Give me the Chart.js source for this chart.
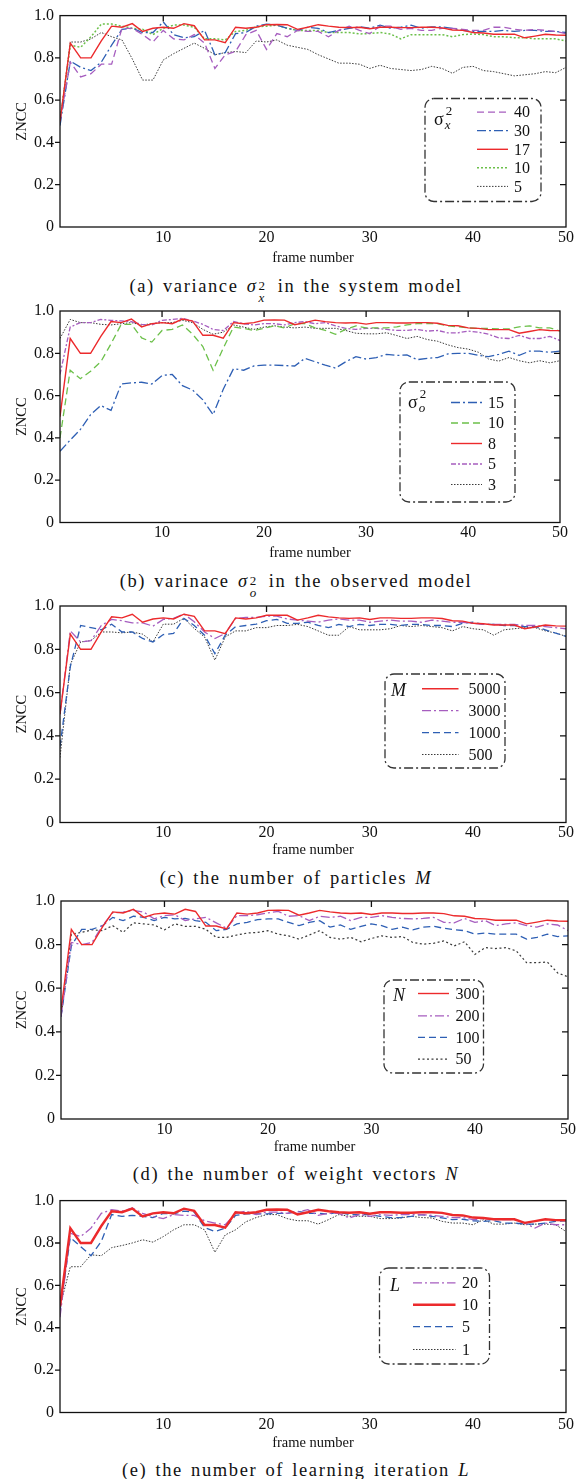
<!DOCTYPE html>
<html>
<head>
<meta charset="utf-8">
<script src="https://cdn.jsdelivr.net/npm/chart.js@4.4.0/dist/chart.umd.min.js"></script>
<style>
  body { margin: 0; background: #fff; width: 586px; height: 1479px; position: relative; overflow: hidden; }
  canvas { position: absolute; left: 0; }
  .cap { position: absolute; left: 0; width: 592px; text-align: center; font-family: 'Liberation Serif', serif;
         font-size: 18.5px; letter-spacing: 1.6px; word-spacing: 2px; color: #111; line-height: 20px; white-space: nowrap; }
  .ss { display: inline-block; position: relative; width: 12px; height: 0; }
  .ss .up { position: absolute; left: 1px; top: -16px; font-size: 13px; font-style: normal; }
  .ss .dn { position: absolute; left: 1px; top: -4px; font-size: 13px; font-style: italic; }
</style>
</head>
<body>
<div class="cap" style="top:276px">(a) variance <i>σ</i><span class="ss"><span class="up">2</span><span class="dn">x</span></span> in the system model</div>
<div class="cap" style="top:571px">(b) varinace <i>σ</i><span class="ss"><span class="up">2</span><span class="dn">o</span></span> in the observed model</div>
<div class="cap" style="top:868px">(c) the number of particles <i>M</i></div>
<div class="cap" style="top:1164px">(d) the number of weight vectors <i>N</i></div>
<div class="cap" style="top:1460px">(e) the number of learning iteration <i>L</i></div>
<script>
const frames = [0,1,2,3,4,5,6,7,8,9,10,11,12,13,14,15,16,17,18,19,20,21,22,23,24,25,26,27,28,29,
  30,31,32,33,34,35,36,37,38,39,40,41,42,43,44,45,46,47,48,49];
const xTickValues = [10, 20, 30, 40, 49];
const xTickLabels = ["10", "20", "30", "40", "50"];
const yTickValues = [0, 0.2, 0.4, 0.6, 0.8, 1.0];
const yTickLabels = ["0", "0.2", "0.4", "0.6", "0.8", "1.0"];

// red run, same in every panel (sigma_x^2=17, sigma_o^2=8, M=5000, N=300, L=10)
const baseline = [0.50,0.87,0.80,0.80,0.88,0.95,0.945,0.962,0.925,0.94,0.945,0.94,0.962,0.952,0.885,0.885,0.872,0.945,0.94,0.945,
  0.957,0.958,0.957,0.935,0.945,0.957,0.95,0.945,0.943,0.945,0.938,0.945,0.945,0.943,0.943,0.945,0.945,0.942,0.932,0.93,
  0.92,0.918,0.912,0.912,0.912,0.895,0.903,0.912,0.908,0.907];

// (a) system model variance
const sysVar40 = [0.50,0.78,0.71,0.725,0.77,0.77,0.94,0.94,0.91,0.875,0.93,0.89,0.885,0.91,0.87,0.75,0.815,0.83,0.91,0.93,
  0.84,0.915,0.90,0.93,0.925,0.925,0.90,0.93,0.95,0.93,0.915,0.95,0.95,0.935,0.94,0.93,0.93,0.94,0.94,0.935,
  0.93,0.93,0.945,0.945,0.935,0.93,0.935,0.93,0.925,0.915];
const sysVar30 = [0.48,0.785,0.755,0.74,0.78,0.86,0.935,0.94,0.92,0.92,0.97,0.91,0.895,0.90,0.93,0.815,0.825,0.915,0.92,0.95,
  0.96,0.955,0.94,0.93,0.945,0.94,0.92,0.93,0.94,0.947,0.94,0.955,0.94,0.945,0.955,0.94,0.947,0.947,0.94,0.93,
  0.925,0.925,0.925,0.93,0.925,0.93,0.93,0.925,0.925,0.92];
const sysVar10 = [0.50,0.86,0.85,0.90,0.96,0.96,0.95,0.94,0.935,0.91,0.94,0.955,0.955,0.945,0.89,0.89,0.885,0.925,0.93,0.947,
  0.95,0.955,0.94,0.93,0.93,0.93,0.92,0.92,0.92,0.913,0.915,0.92,0.913,0.89,0.91,0.91,0.91,0.91,0.90,0.91,
  0.913,0.91,0.90,0.90,0.895,0.895,0.89,0.89,0.89,0.88];
const sysVar5 = [0.50,0.875,0.875,0.89,0.92,0.90,0.885,0.795,0.695,0.695,0.79,0.82,0.845,0.87,0.845,0.815,0.825,0.83,0.825,0.88,
  0.875,0.885,0.86,0.85,0.84,0.815,0.795,0.775,0.775,0.77,0.75,0.765,0.75,0.745,0.74,0.745,0.76,0.75,0.727,0.755,
  0.76,0.74,0.735,0.725,0.715,0.72,0.725,0.735,0.73,0.755];

// (b) observed model variance
const obsVar15 = [0.337,0.39,0.44,0.51,0.553,0.53,0.655,0.66,0.663,0.655,0.695,0.70,0.647,0.626,0.58,0.51,0.63,0.727,0.72,0.74,
  0.744,0.744,0.742,0.74,0.776,0.76,0.744,0.73,0.76,0.784,0.773,0.78,0.795,0.79,0.792,0.77,0.776,0.78,0.797,0.80,
  0.80,0.79,0.784,0.795,0.81,0.79,0.81,0.81,0.805,0.81];
const obsVar10 = [0.40,0.72,0.68,0.715,0.76,0.845,0.937,0.937,0.873,0.853,0.908,0.913,0.934,0.89,0.832,0.72,0.824,0.924,0.918,0.908,
  0.918,0.93,0.92,0.94,0.94,0.92,0.908,0.89,0.913,0.93,0.92,0.92,0.92,0.925,0.934,0.94,0.94,0.94,0.93,0.925,
  0.92,0.918,0.918,0.915,0.915,0.925,0.93,0.92,0.92,0.905];
const obsVar5 = [0.70,0.924,0.945,0.945,0.96,0.956,0.953,0.95,0.937,0.934,0.956,0.96,0.966,0.953,0.937,0.913,0.908,0.95,0.94,0.934,
  0.94,0.94,0.934,0.945,0.95,0.94,0.945,0.93,0.918,0.913,0.918,0.918,0.913,0.908,0.908,0.913,0.905,0.908,0.897,0.897,
  0.905,0.90,0.89,0.873,0.87,0.885,0.87,0.87,0.88,0.86];
const obsVar3 = [0.87,0.96,0.945,0.945,0.937,0.934,0.94,0.945,0.934,0.94,0.945,0.945,0.956,0.945,0.913,0.89,0.90,0.934,0.924,0.913,
  0.924,0.93,0.924,0.92,0.924,0.918,0.918,0.918,0.908,0.895,0.892,0.892,0.897,0.884,0.87,0.88,0.865,0.857,0.84,0.827,
  0.82,0.805,0.773,0.763,0.78,0.765,0.755,0.765,0.755,0.765];

// (c) number of particles
const particles3000 = [0.50,0.885,0.834,0.84,0.91,0.938,0.932,0.922,0.922,0.907,0.938,0.943,0.963,0.927,0.88,0.85,0.873,0.943,0.947,0.947,
  0.953,0.953,0.94,0.935,0.93,0.925,0.935,0.94,0.935,0.935,0.925,0.93,0.935,0.93,0.93,0.925,0.935,0.93,0.925,0.925,
  0.92,0.915,0.915,0.915,0.915,0.91,0.91,0.905,0.90,0.895];
const particles1000 = [0.35,0.72,0.91,0.90,0.89,0.916,0.88,0.88,0.85,0.834,0.868,0.873,0.943,0.91,0.865,0.78,0.865,0.904,0.91,0.916,
  0.932,0.938,0.92,0.92,0.925,0.91,0.90,0.915,0.905,0.915,0.91,0.915,0.915,0.91,0.915,0.915,0.91,0.91,0.905,0.92,
  0.925,0.915,0.915,0.91,0.91,0.905,0.905,0.89,0.875,0.86];
const particles500 = [0.30,0.73,0.834,0.84,0.88,0.88,0.876,0.88,0.87,0.834,0.916,0.916,0.943,0.896,0.857,0.75,0.857,0.885,0.885,0.90,
  0.90,0.91,0.91,0.915,0.905,0.885,0.865,0.865,0.905,0.89,0.89,0.89,0.895,0.91,0.905,0.91,0.905,0.90,0.885,0.905,
  0.895,0.89,0.865,0.89,0.895,0.90,0.90,0.885,0.875,0.86];

// (d) number of weight vectors
const weights200 = [0.47,0.81,0.80,0.81,0.887,0.946,0.949,0.957,0.949,0.918,0.933,0.937,0.91,0.918,0.925,0.90,0.875,0.933,0.933,0.937,
  0.946,0.952,0.93,0.933,0.91,0.93,0.925,0.93,0.91,0.925,0.925,0.933,0.925,0.92,0.918,0.92,0.925,0.902,0.90,0.92,
  0.902,0.91,0.887,0.895,0.90,0.887,0.88,0.895,0.89,0.864];
const weights100 = [0.47,0.794,0.87,0.87,0.887,0.925,0.91,0.93,0.925,0.91,0.925,0.918,0.92,0.91,0.902,0.864,0.87,0.895,0.902,0.915,
  0.918,0.918,0.902,0.887,0.902,0.91,0.88,0.89,0.87,0.884,0.895,0.887,0.87,0.88,0.868,0.88,0.884,0.875,0.868,0.864,
  0.848,0.853,0.848,0.848,0.848,0.825,0.833,0.848,0.837,0.84];
const weights50 = [0.47,0.848,0.856,0.868,0.864,0.887,0.856,0.90,0.895,0.89,0.868,0.895,0.884,0.884,0.87,0.833,0.833,0.844,0.853,0.856,
  0.864,0.848,0.84,0.825,0.844,0.864,0.833,0.825,0.833,0.813,0.828,0.84,0.833,0.837,0.81,0.802,0.806,0.817,0.794,0.813,
  0.755,0.786,0.782,0.786,0.771,0.717,0.717,0.72,0.67,0.652];

// (e) number of learning iterations
const iter20 = [0.45,0.846,0.83,0.87,0.94,0.957,0.95,0.965,0.94,0.925,0.915,0.934,0.93,0.93,0.905,0.894,0.886,0.94,0.95,0.934,
  0.946,0.946,0.94,0.946,0.957,0.93,0.94,0.94,0.918,0.934,0.926,0.934,0.93,0.934,0.934,0.934,0.93,0.926,0.92,0.92,
  0.91,0.915,0.91,0.91,0.91,0.894,0.87,0.894,0.886,0.886];
const iter5 = [0.48,0.826,0.783,0.74,0.807,0.934,0.926,0.93,0.926,0.92,0.94,0.937,0.95,0.946,0.873,0.854,0.87,0.93,0.937,0.937,
  0.937,0.94,0.94,0.95,0.94,0.94,0.937,0.946,0.934,0.934,0.934,0.926,0.92,0.92,0.926,0.934,0.926,0.918,0.91,0.912,
  0.905,0.902,0.905,0.894,0.894,0.889,0.889,0.894,0.902,0.905];
const iter1 = [0.50,0.688,0.688,0.744,0.74,0.778,0.788,0.80,0.815,0.804,0.83,0.862,0.886,0.886,0.862,0.756,0.838,0.862,0.90,0.92,
  0.934,0.934,0.915,0.905,0.905,0.889,0.91,0.934,0.926,0.926,0.926,0.915,0.915,0.918,0.926,0.92,0.918,0.902,0.894,0.894,
  0.886,0.91,0.889,0.889,0.894,0.886,0.889,0.889,0.886,0.854];

const RED = "#ec2a2c", PURPLE = "#a65dbf", BLUE = "#2e5fb4", GREEN = "#6cc04a", BLACK = "#3a3a3a";
const SOLID = [], DASH = [7, 4], DASHDOT = [9, 3, 2, 3], DASHDOT2 = [5, 2, 2, 2], DOT = [1.5, 1.5], GDOT = [2, 2];
const FONT = "'Liberation Serif', serif";

function series(label, values, color, dash, width, order) {
  return {
    label: label,
    data: values.map((v, i) => ({ x: frames[i], y: v })),
    borderColor: color,
    borderDash: dash,
    borderWidth: width,
    pointRadius: 0,
    tension: 0,
    fill: false,
    order: order,
  };
}

const panels = [
  {
    top: 0, height: 267, left: 60, right: 566, padTop: 15, xh: 40, tickPad: 1,
    legend: { x: 425, y: 98.5, w: 116, h: 103, title: { main: "σ", sup: "2", sub: "x" }, tx: 434, ty: 120,
      x0: 477, x1: 508, textX: 514, rows: [112.2, 130.7, 149.3, 167.8, 186.4] },
    datasets: [
      series("40", sysVar40, PURPLE, DASH, 1.3, 2),
      series("30", sysVar30, BLUE, DASHDOT, 1.3, 3),
      series("17", baseline, RED, SOLID, 1.4, 0),
      series("10", sysVar10, GREEN, GDOT, 1.5, 4),
      series("5", sysVar5, BLACK, DOT, 1, 5),
    ],
  },
  {
    top: 295, height: 267, left: 60, right: 560, padTop: 16, xh: 39.5, tickPad: 1,
    legend: { x: 400, y: 382, w: 115, h: 120, title: { main: "σ", sup: "2", sub: "o" }, tx: 408, ty: 403,
      x0: 451, x1: 482, textX: 488, rows: [402.5, 423, 443.5, 464, 484.5] },
    datasets: [
      series("15", obsVar15, BLUE, DASHDOT, 1.3, 3),
      series("10", obsVar10, GREEN, DASH, 1.3, 2),
      series("8", baseline, RED, SOLID, 1.4, 0),
      series("5", obsVar5, PURPLE, DASHDOT2, 1.3, 4),
      series("3", obsVar3, BLACK, DOT, 1, 5),
    ],
  },
  {
    top: 590, height: 269, left: 60, right: 566, padTop: 16, xh: 36.5, tickPad: 1,
    legend: { x: 385, y: 674, w: 120, h: 94, title: { main: "M", italic: true }, tx: 391, ty: 691,
      x0: 422, x1: 458.5, textX: 468.5, rows: [688.8, 710.7, 732.6, 754.5] },
    datasets: [
      series("5000", baseline, RED, SOLID, 1.4, 0),
      series("3000", particles3000, PURPLE, DASHDOT, 1.3, 2),
      series("1000", particles1000, BLUE, DASH, 1.3, 3),
      series("500", particles500, BLACK, DOT, 1, 4),
    ],
  },
  {
    top: 885, height: 270.5, left: 61, right: 568, padTop: 16, xh: 37, tickPad: 1,
    legend: { x: 384, y: 980, w: 99.5, h: 93, title: { main: "N", italic: true }, tx: 393, ty: 996,
      x0: 418, x1: 449, textX: 455.5, rows: [993.5, 1015.8, 1037.3, 1059.2] },
    datasets: [
      series("300", baseline, RED, SOLID, 1.4, 0),
      series("200", weights200, PURPLE, DASHDOT, 1.3, 2),
      series("100", weights100, BLUE, DASH, 1.3, 3),
      series("50", weights50, BLACK, [2, 2.5], 1.2, 4),
    ],
  },
  {
    top: 1185, height: 267, left: 60, right: 566, padTop: 14.5, xh: 39.5, tickPad: 3,
    legend: { x: 379.5, y: 1268, w: 110, h: 96, title: { main: "L", italic: true }, tx: 390, ty: 1286,
      x0: 413, x1: 455.5, textX: 462, rows: [1282.8, 1304.7, 1326.6, 1349.5] },
    datasets: [
      series("20", iter20, PURPLE, DASHDOT, 1.3, 2),
      series("10", baseline, RED, SOLID, 2.4, 0),
      series("5", iter5, BLUE, DASH, 1.3, 3),
      series("1", iter1, BLACK, DOT, 1, 4),
    ],
  },
];

// box around the plot area plus the small tick marks
const framePlugin = {
  id: "frameBox",
  afterDatasetsDraw(chart) {
    const { ctx, chartArea: a, scales } = chart;
    ctx.save();
    ctx.strokeStyle = "#111";
    ctx.lineWidth = 1.3;
    ctx.setLineDash([]);
    ctx.strokeRect(a.left, a.top, a.right - a.left, a.bottom - a.top);
    ctx.beginPath();
    yTickValues.slice(1, -1).forEach((v) => {
      const py = scales.y.getPixelForValue(v);
      ctx.moveTo(a.left - 5, py); ctx.lineTo(a.left, py);
      ctx.moveTo(a.right - 6, py); ctx.lineTo(a.right, py);
    });
    xTickValues.slice(0, -1).forEach((v) => {
      const px = scales.x.getPixelForValue(v);
      ctx.moveTo(px, a.top); ctx.lineTo(px, a.top + 6);
    });
    ctx.stroke();
    ctx.restore();
  },
};

// legend in a rounded dash-dot box, title on the left
const boxLegendPlugin = {
  id: "boxLegend",
  afterDraw(chart, args, opts) {
    const L = opts.cfg;
    const off = opts.offset;
    const ctx = chart.ctx;
    ctx.save();
    ctx.strokeStyle = "#333";
    ctx.lineWidth = 1.3;
    ctx.setLineDash([9, 3, 2, 3]);
    ctx.beginPath();
    ctx.roundRect(L.x, L.y - off, L.w, L.h, 9);
    ctx.stroke();

    // title
    ctx.setLineDash([]);
    ctx.fillStyle = "#111";
    ctx.textBaseline = "middle";
    ctx.textAlign = "left";
    const t = L.title;
    ctx.font = (t.italic ? "italic " : "") + "18px " + FONT;
    ctx.fillText(t.main, L.tx, L.ty - off);
    if (t.sup) {
      const w = ctx.measureText(t.main).width;
      ctx.font = "13px " + FONT;
      ctx.fillText(t.sup, L.tx + w + 2, L.ty - off - 8);
      ctx.font = "italic 13px " + FONT;
      ctx.fillText(t.sub, L.tx + w + 1, L.ty - off + 6);
    }

    chart.data.datasets.forEach((ds, i) => {
      const ry = L.rows[i] - off;
      ctx.strokeStyle = ds.borderColor;
      ctx.lineWidth = ds.borderWidth;
      ctx.setLineDash(ds.borderDash);
      ctx.beginPath();
      ctx.moveTo(L.x0, ry);
      ctx.lineTo(L.x1, ry);
      ctx.stroke();
      ctx.setLineDash([]);
      ctx.fillStyle = "#111";
      ctx.font = "16px " + FONT;
      ctx.fillText(ds.label, L.textX, ry + 1);
    });
    ctx.restore();
  },
};

Chart.defaults.font.family = FONT;
Chart.defaults.font.size = 16;
Chart.defaults.color = "#111";

panels.forEach((p) => {
  const canvas = document.createElement("canvas");
  canvas.width = 586;
  canvas.height = Math.round(p.height);
  canvas.style.top = p.top + "px";
  document.body.appendChild(canvas);

  new Chart(canvas.getContext("2d"), {
    type: "line",
    data: { datasets: p.datasets },
    options: {
      responsive: false,
      animation: false,
      events: [],
      layout: { padding: { left: 0, right: 586 - p.right, top: p.padTop, bottom: 0 } },
      plugins: {
        legend: { display: false },
        tooltip: { enabled: false },
        boxLegend: { cfg: p.legend, offset: p.top },
      },
      scales: {
        x: {
          type: "linear",
          min: 0,
          max: 49,
          afterBuildTicks: (s) => { s.ticks = xTickValues.map((v) => ({ value: v })); },
          afterFit: (s) => { s.height = p.xh; },
          ticks: {
            autoSkip: false,
            maxRotation: 0,
            padding: p.tickPad,
            callback: (v, i) => xTickLabels[i],
          },
          grid: { display: false, drawTicks: false },
          border: { display: false },
          title: { display: true, text: "frame number", padding: { top: 0, bottom: 0 }, font: { size: 14.5 } },
        },
        y: {
          min: 0,
          max: 1,
          afterBuildTicks: (s) => { s.ticks = yTickValues.map((v) => ({ value: v })); },
          afterFit: (s) => { s.width = p.left; },
          ticks: { padding: 6, callback: (v, i) => yTickLabels[i] },
          grid: { display: false, drawTicks: false },
          border: { display: false },
          title: { display: true, text: "ZNCC", padding: { top: 13, bottom: 0 }, font: { size: 14.5 } },
        },
      },
    },
    plugins: [framePlugin, boxLegendPlugin],
  });
});
</script>
</body>
</html>
